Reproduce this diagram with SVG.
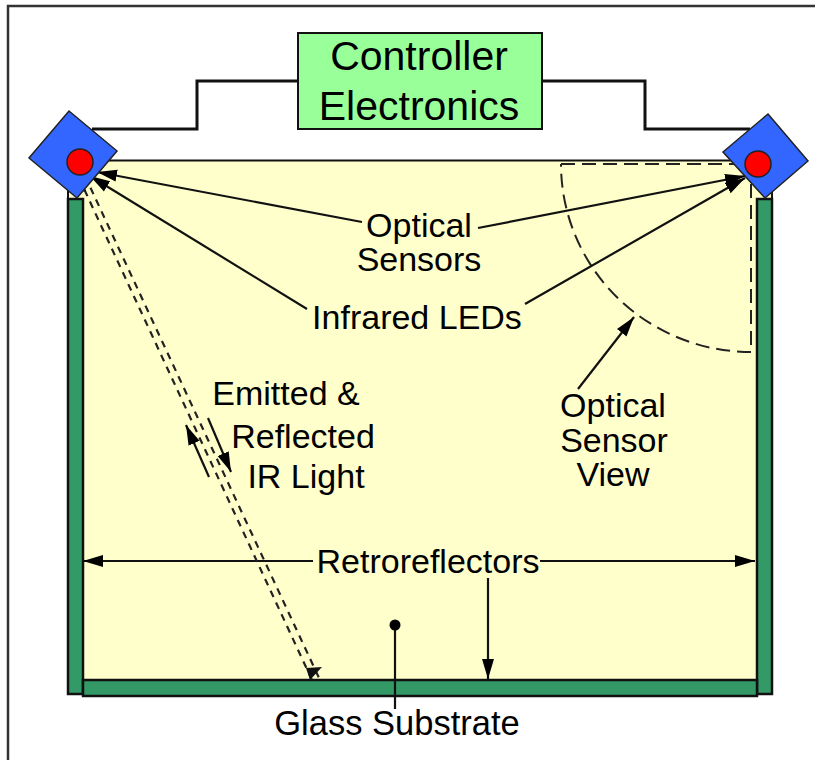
<svg xmlns="http://www.w3.org/2000/svg" width="815" height="760" viewBox="0 0 815 760">
<defs>
<marker id="ah" markerUnits="userSpaceOnUse" markerWidth="22" markerHeight="16" refX="20" refY="7" orient="auto"><path d="M0 1L20 7L0 13Z" fill="#000"/></marker>
</defs>
<style>
text{font-family:"Liberation Sans",Arial,sans-serif;fill:#000;text-anchor:middle}
.t{font-size:34px}
.big{font-size:41px}
.sm{font-size:34.500px}
.w{fill:none;stroke:#111;stroke-width:3}
.r{fill:#339966;stroke:#111;stroke-width:2.5}
.d{fill:#3366ff;stroke:#222;stroke-width:1.5}
.c{fill:#f00;stroke:#222;stroke-width:1.5}
.a{fill:none;stroke:#111;stroke-width:2.200;marker-end:url(#ah)}
.l{fill:none;stroke:#111;stroke-width:2.200}
.das{fill:none;stroke:#222;stroke-width:2;stroke-dasharray:14 7}
.dl{fill:none;stroke:#222;stroke-width:2.200;stroke-dasharray:7 6}
</style>
<rect width="815" height="760" fill="#fff"/>
<path d="M8 760V6H815" fill="none" stroke="#333" stroke-width="2.5"/>
<g id="glass-substrate">
<rect x="68" y="160.500" width="704" height="530" fill="#ffffcc" stroke="#111" stroke-width="2"/>
</g>
<g id="left-retroreflector"><rect class="r" x="68" y="199" width="15" height="495"/></g>
<g id="right-retroreflector"><rect class="r" x="757" y="199" width="15" height="495"/></g>
<g id="bottom-retroreflector"><rect class="r" x="83" y="680" width="674" height="16"/></g>
<g id="connectors">
<path class="w" d="M92 129H197V81H298"/>
<path class="w" d="M542 81H645V129H750"/>
<path class="das" d="M561 164H751V352"/>
<path class="das" d="M751 352A190 188 0 0 1 561 164"/>
<path class="a" d="M362 222L97 172"/>
<path class="a" d="M478 228L745 176"/>
<path class="a" d="M307 309L90 176"/>
<path class="a" d="M525 304L745 178"/>
<path class="a" d="M578 389L634 317"/>
<path class="a" d="M313 561H83"/>
<path class="a" d="M540 561H755"/>
<path class="a" d="M488 578V679"/>
<path class="l" d="M395 625V709"/>
<circle cx="395" cy="625" r="5.500" fill="#000"/>
<path class="dl" d="M79 178L312 680"/>
<path class="dl" d="M85 176L320 680"/>
<path d="M310 680L322 667L306 668Z" fill="#111"/>
<path d="M80 177L72 193L86 191Z" fill="#111"/>
<path class="a" d="M209 477L186 425"/>
<path class="a" d="M208 418L231 472"/>
</g>
<g id="left-sensor"><path class="d" d="M69 111L117 151L77 198L29 158Z"/><circle class="c" cx="80" cy="162" r="13"/></g>
<g id="right-sensor"><path class="d" d="M768 114L808 161L765 198L723 152Z"/><circle class="c" cx="758" cy="164" r="13"/></g>
<g id="controller">
<rect x="298" y="33" width="244" height="96" fill="#99ff99" stroke="#111" stroke-width="2"/>
<text class="big" x="419" y="70">Controller</text>
<text class="big" x="419" y="120">Electronics</text>
</g>
<g id="labels">
<text class="t" x="419" y="237">Optical</text>
<text class="t" x="419" y="271">Sensors</text>
<text class="t" x="417" y="329">Infrared LEDs</text>
<text class="t" x="286" y="405">Emitted &amp;</text>
<text class="t" x="303" y="448">Reflected</text>
<text class="t" x="306" y="488">IR Light</text>
<text class="t" x="613" y="417">Optical</text>
<text class="t" x="614" y="452">Sensor</text>
<text class="t" x="613" y="486">View</text>
<text class="t" x="428" y="573">Retroreflectors</text>
<text class="sm" x="397" y="735">Glass Substrate</text>
</g>
</svg>
